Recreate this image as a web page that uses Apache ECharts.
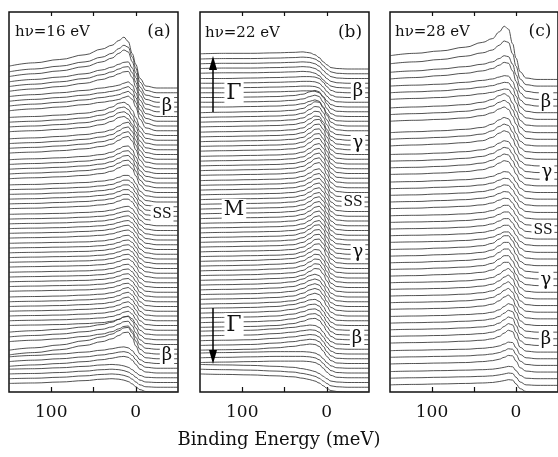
<!DOCTYPE html>
<html>
<head>
<meta charset="utf-8">
<script src="https://cdn.jsdelivr.net/npm/echarts@6/dist/echarts.min.js"></script>
<style>
  html, body { margin: 0; padding: 0; background: #fff; }
  #chart { width: 558px; height: 457px; }
</style>
</head>
<body>
<div id="chart"></div>
<script>
var energy = [150, 120, 90, 60, 40, 28, 20, 14, 9, 4, 0, -5, -12, -25, -50];

// panel (a) hv=16 eV : curves listed top -> bottom, counts = how many curves share a shape
var countsA = [1, 2, 3, 4, 4, 4, 5, 6, 6, 6, 5, 7, 3, 2, 3, 4];
var edcA = [
  [4.6, 5.3, 6.0, 7.0, 8.2, 9.0, 10.0, 10.7, 9.8, 7.2, 5.0, 2.0, 0.4, 0, 0],
  [4.4, 5.0, 5.6, 6.5, 7.5, 8.3, 9.3, 10.0, 9.6, 7.5, 5.2, 2.2, 0.5, 0, 0],
  [4.3, 4.8, 5.3, 6.0, 6.8, 7.4, 8.0, 8.4, 8.5, 7.2, 5.2, 2.4, 0.6, 0, 0],
  [4.2, 4.6, 5.0, 5.5, 6.0, 6.3, 6.6, 7.0, 7.3, 6.6, 5.0, 2.4, 0.6, 0, 0],
  [3.8, 4.0, 4.3, 4.7, 5.3, 6.0, 6.8, 7.0, 6.5, 5.3, 3.8, 1.8, 0.4, 0, 0],
  [3.3, 3.5, 3.8, 4.2, 4.7, 5.2, 6.0, 6.6, 6.8, 5.8, 4.0, 1.8, 0.4, 0, 0],
  [2.9, 3.1, 3.3, 3.6, 4.0, 4.5, 5.2, 5.7, 5.8, 5.0, 3.5, 1.6, 0.4, 0, 0],
  [2.6, 2.7, 2.9, 3.1, 3.4, 3.7, 4.2, 4.6, 4.6, 4.0, 2.9, 1.3, 0.3, 0, 0],
  [2.4, 2.5, 2.6, 2.8, 3.0, 3.3, 3.7, 4.0, 4.1, 3.6, 2.6, 1.2, 0.3, 0, 0],
  [2.3, 2.4, 2.5, 2.6, 2.8, 3.1, 3.5, 3.9, 4.0, 3.5, 2.5, 1.1, 0.3, 0, 0],
  [2.2, 2.3, 2.4, 2.5, 2.7, 3.0, 3.4, 3.8, 3.9, 3.3, 2.3, 1.0, 0.2, 0, 0],
  [2.0, 2.1, 2.2, 2.4, 2.6, 2.9, 3.3, 3.8, 4.0, 3.4, 2.3, 1.0, 0.2, 0, 0],
  [1.6, 1.9, 2.2, 2.7, 3.2, 3.7, 4.3, 4.8, 4.9, 3.9, 2.5, 1.0, 0.2, 0, 0],
  [0.8, 1.3, 1.9, 2.8, 3.6, 4.2, 4.9, 5.5, 5.6, 4.4, 2.7, 1.0, 0.2, 0, 0],
  [1.4, 1.7, 2.0, 2.4, 2.8, 3.1, 3.4, 3.5, 3.3, 2.7, 1.8, 0.8, 0.2, 0, 0],
  [1.8, 1.9, 2.1, 2.4, 2.7, 2.8, 2.7, 2.5, 2.2, 1.7, 1.1, 0.5, 0.1, 0, 0]
];

// panel (b) hv=22 eV
var countsB = [1, 4, 4, 3, 4, 5, 5, 6, 6, 5, 5, 5, 5, 5, 3, 3];
var edcB = [
  [3.2, 3.3, 3.3, 3.4, 3.5, 3.6, 3.4, 3.0, 2.4, 1.5, 0.9, 0.3, 0.1, 0, 0],
  [3.1, 3.2, 3.2, 3.3, 3.4, 3.5, 3.4, 3.1, 2.6, 1.7, 1.0, 0.4, 0.1, 0, 0],
  [3.0, 3.0, 3.1, 3.2, 3.3, 3.4, 3.4, 3.3, 3.0, 2.2, 1.3, 0.5, 0.1, 0, 0],
  [3.0, 3.0, 3.1, 3.2, 3.4, 3.7, 4.2, 4.5, 4.2, 3.0, 1.7, 0.6, 0.1, 0, 0],
  [2.8, 2.9, 3.0, 3.1, 3.3, 3.7, 4.5, 5.1, 5.0, 3.8, 2.3, 0.8, 0.2, 0, 0],
  [2.7, 2.8, 2.9, 3.0, 3.2, 3.6, 4.5, 5.3, 5.4, 4.3, 2.7, 1.0, 0.2, 0, 0],
  [2.6, 2.7, 2.8, 2.9, 3.1, 3.5, 4.3, 5.1, 5.3, 4.3, 2.8, 1.1, 0.2, 0, 0],
  [2.5, 2.6, 2.7, 2.8, 3.0, 3.4, 4.1, 4.8, 5.0, 4.1, 2.7, 1.0, 0.2, 0, 0],
  [2.5, 2.6, 2.7, 2.8, 3.0, 3.4, 4.1, 4.9, 5.1, 4.2, 2.7, 1.0, 0.2, 0, 0],
  [2.5, 2.6, 2.7, 2.8, 3.0, 3.5, 4.3, 5.1, 5.2, 4.2, 2.6, 1.0, 0.2, 0, 0],
  [2.5, 2.6, 2.7, 2.9, 3.1, 3.6, 4.4, 5.0, 4.9, 3.8, 2.4, 0.9, 0.2, 0, 0],
  [2.5, 2.6, 2.7, 2.9, 3.2, 3.8, 4.5, 4.8, 4.5, 3.4, 2.1, 0.8, 0.2, 0, 0],
  [2.6, 2.7, 2.8, 3.0, 3.4, 3.9, 4.4, 4.5, 4.1, 3.0, 1.8, 0.7, 0.1, 0, 0],
  [2.8, 2.9, 3.0, 3.3, 3.6, 3.9, 4.1, 4.0, 3.6, 2.6, 1.5, 0.6, 0.1, 0, 0],
  [3.2, 3.3, 3.4, 3.5, 3.5, 3.5, 3.4, 3.2, 2.8, 2.0, 1.2, 0.5, 0.1, 0, 0],
  [3.8, 3.7, 3.6, 3.4, 3.2, 2.9, 2.6, 2.3, 1.9, 1.3, 0.8, 0.3, 0.1, 0, 0]
];

// panel (c) hv=28 eV
var countsC = [1, 1, 2, 3, 3, 3, 4, 5, 5, 5, 5, 5, 3, 3];
var edcC = [
  [5.0, 5.5, 6.0, 6.8, 7.8, 8.6, 10.0, 11.2, 10.6, 7.5, 4.5, 1.6, 0.3, 0, 0],
  [4.7, 5.1, 5.6, 6.3, 7.0, 7.6, 8.6, 9.5, 9.2, 6.8, 4.2, 1.5, 0.3, 0, 0],
  [4.3, 4.6, 5.0, 5.5, 6.0, 6.5, 7.2, 7.8, 7.6, 6.0, 3.8, 1.4, 0.3, 0, 0],
  [4.2, 4.4, 4.6, 5.0, 5.4, 5.7, 6.1, 6.4, 6.3, 5.2, 3.5, 1.3, 0.3, 0, 0],
  [3.8, 4.0, 4.2, 4.5, 5.0, 5.6, 6.4, 6.8, 6.3, 4.8, 3.2, 1.2, 0.2, 0, 0],
  [2.8, 3.0, 3.2, 3.5, 3.9, 4.6, 5.5, 6.0, 5.7, 4.3, 2.7, 1.0, 0.2, 0, 0],
  [2.4, 2.5, 2.7, 3.0, 3.4, 4.0, 4.8, 5.3, 5.1, 3.9, 2.5, 1.0, 0.2, 0, 0],
  [2.2, 2.3, 2.5, 2.7, 3.0, 3.4, 4.0, 4.4, 4.3, 3.4, 2.2, 0.9, 0.2, 0, 0],
  [2.1, 2.2, 2.3, 2.5, 2.8, 3.2, 3.8, 4.3, 4.3, 3.4, 2.2, 0.9, 0.2, 0, 0],
  [2.0, 2.1, 2.3, 2.5, 2.8, 3.3, 4.2, 4.9, 4.9, 3.8, 2.4, 0.9, 0.2, 0, 0],
  [2.0, 2.1, 2.2, 2.4, 2.7, 3.1, 3.8, 4.6, 5.0, 4.2, 2.6, 1.0, 0.2, 0, 0],
  [1.9, 2.0, 2.1, 2.3, 2.5, 2.8, 3.3, 4.0, 4.6, 4.3, 2.8, 1.0, 0.2, 0, 0],
  [1.7, 1.8, 1.9, 2.0, 2.2, 2.4, 2.7, 3.1, 3.5, 3.4, 2.3, 0.9, 0.2, 0, 0],
  [1.5, 1.6, 1.7, 1.8, 1.9, 2.0, 2.2, 2.4, 2.6, 2.5, 1.7, 0.7, 0.1, 0, 0]
];

var tickValues = [100, 50, 0];
var labelValues = [100, 0];
var serif = "'DejaVu Serif', 'Liberation Serif', serif";

var chart = echarts.init(document.getElementById('chart'), null, { renderer: 'canvas' });

// stack the curves of one panel, bottom curve sits on 0
function panelSeries(edc, counts, step, idx) {
  var total = counts.reduce(function (a, b) { return a + b; }, 0);
  var out = [];
  var k = 0;
  for (var g = 0; g < edc.length; g++) {
    for (var r = 0; r < counts[g]; r++) {
      var off = (total - 1 - k) * step;
      out.push({
        type: 'line',
        xAxisIndex: idx * 2,
        yAxisIndex: idx,
        data: energy.map(function (e, j) { return [e, off + edc[g][j]]; }),
        smooth: 0.4,
        smoothMonotone: 'x',
        symbol: 'none',
        silent: true,
        lineStyle: { color: '#333', width: 0.85 }
      });
      k++;
    }
  }
  return out;
}

var lefts = [9, 200, 390];
var grids = [], xAxes = [], yAxes = [];
lefts.forEach(function (l, i) {
  grids.push({ left: l, top: 12, width: 169, height: 380, show: true, borderColor: '#111', borderWidth: 1.5, backgroundColor: 'transparent' });
  xAxes.push({
    type: 'value', gridIndex: i, min: -50, max: 150, interval: 50, inverse: true, position: 'bottom',
    axisLine: { show: false }, splitLine: { show: false },
    axisTick: { show: true, inside: true, length: 5, customValues: tickValues, lineStyle: { color: '#111', width: 1.2 } },
    axisLabel: { show: true, customValues: labelValues, margin: 12, color: '#111', fontFamily: serif, fontSize: 17 }
  });
  xAxes.push({
    type: 'value', gridIndex: i, min: -50, max: 150, interval: 50, inverse: true, position: 'top',
    axisLine: { show: false }, splitLine: { show: false },
    axisTick: { show: true, inside: true, length: 4, customValues: tickValues, lineStyle: { color: '#111', width: 1.2 } },
    axisLabel: { show: false }
  });
  yAxes.push({ type: 'value', gridIndex: i, min: 0, max: 80, show: false });
});

var series = []
  .concat(panelSeries(edcA, countsA, 1, 0))
  .concat(panelSeries(edcB, countsB, 1, 1))
  .concat(panelSeries(edcC, countsC, 1.4, 2));

function label(text, x, y, size, align) {
  return {
    type: 'text', x: x, y: y, z: 100,
    style: {
      text: text, fill: '#111', font: size + 'px ' + serif,
      align: align || 'center', verticalAlign: 'middle',
      backgroundColor: '#fff', padding: [1, 2]
    }
  };
}

var graphics = [
  label('hν=16 eV', 13, 32, 15, 'left'),
  label('(a)', 159, 32, 17),
  label('β', 167, 106, 18),
  label('SS', 162, 214, 14),
  label('β', 167, 355, 18),

  label('hν=22 eV', 203, 33, 15, 'left'),
  label('(b)', 350, 33, 17),
  label('β', 358, 91, 18),
  label('γ', 358, 143, 18),
  label('SS', 353, 202, 14),
  label('γ', 358, 252, 18),
  label('β', 357, 338, 18),
  label('Γ', 234, 93, 22),
  label('M', 234, 210, 20),
  label('Γ', 234, 325, 22),

  label('hν=28 eV', 393, 32, 15, 'left'),
  label('(c)', 540, 32, 17),
  label('β', 546, 102, 18),
  label('γ', 547, 172, 18),
  label('SS', 543, 230, 14),
  label('γ', 546, 280, 18),
  label('β', 546, 339, 18),

  // momentum arrows in panel (b)
  { type: 'line', z: 100, shape: { x1: 213, y1: 112, x2: 213, y2: 66 }, style: { stroke: '#000', lineWidth: 1.5 } },
  { type: 'polygon', z: 100, shape: { points: [[213, 56], [209, 70], [217, 70]] }, style: { fill: '#000' } },
  { type: 'line', z: 100, shape: { x1: 213, y1: 308, x2: 213, y2: 354 }, style: { stroke: '#000', lineWidth: 1.5 } },
  { type: 'polygon', z: 100, shape: { points: [[213, 364], [209, 350], [217, 350]] }, style: { fill: '#000' } },

  {
    type: 'text', x: 279, y: 440, z: 100,
    style: { text: 'Binding Energy (meV)', fill: '#111', font: '18px ' + serif, align: 'center', verticalAlign: 'middle' }
  }
];

var option = {
  animation: false,
  backgroundColor: '#fff',
  grid: grids,
  xAxis: xAxes,
  yAxis: yAxes,
  series: series,
  graphic: graphics
};

chart.setOption(option);
</script>
</body>
</html>
